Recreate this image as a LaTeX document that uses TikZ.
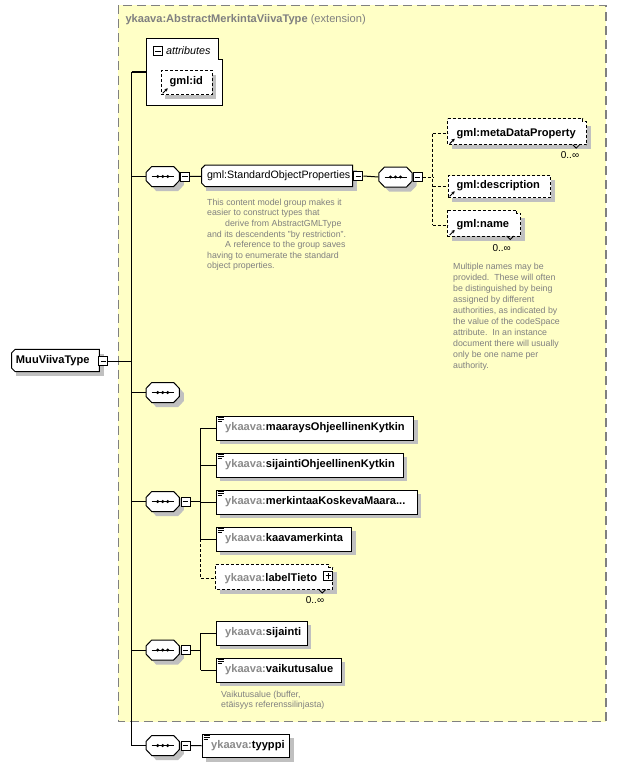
\documentclass[tikz,border=0pt]{standalone}
\usepackage{fontspec}
\setmainfont{Liberation Sans}
\usetikzlibrary{arrows.meta}
\definecolor{ybg}{RGB}{255,255,198}
\definecolor{shd}{RGB}{192,192,192}
\definecolor{gtx}{RGB}{128,128,128}
\definecolor{ylab}{RGB}{138,138,138}
\newcommand\fel{\fontsize{11.1}{12}\selectfont\bfseries}
\newcommand\fdesc{\fontsize{8.8}{10.6}\selectfont}
% plain element box
\newcommand\xel[6]{%
 \fill[shd] (#2+4.5,#3+4.5) rectangle (#4+4.5,#5+4.5);
 \node[box, anchor=north west, minimum width=#4-#2, minimum height=#5-#3] (#1) at (#2,#3) {};
 \node[lbl] at (#2+9,#3/2+#5/2) {#6};
}
% dashed element box
\newcommand\xdsh[6]{%
 \fill[shd] (#2+4.5,#3+4.5) rectangle (#4+4.5,#5+4.5);
 \node[box, dash pattern=on 3pt off 2pt, anchor=north west, minimum width=#4-#2, minimum height=#5-#3] (#1) at (#2,#3) {};
 \node[lbl] at (#2+8.5,#3/2+#5/2) {#6};
}
% dashed stacked element box
\newcommand\xstk[6]{%
 \fill[shd] (#2+4.5,#3+7.5) rectangle (#4+4.5,#5+4.5);
 \path[draw=black, fill=white, dash pattern=on 3pt off 2pt] (#2,#3) -- (#4-4,#3) -- (#4-4,#3+3) -- (#4,#3+3) -- (#4,#5) -- (#2,#5) -- cycle;
 \draw[line width=0.8pt] (#4-14,#5) -- (#4-10.5,#5+3.5) -- (#4-7,#5);
 \node[inner sep=0pt, anchor=north west, minimum width=#4-#2, minimum height=#5-#3] (#1) at (#2,#3) {};
 \node[lbl] at (#2+8.5,#3/2+#5/2+1.5) {#6};
}
% list icon
\newcommand\icl[1]{%
 \draw[line width=0.7pt] ([shift={(2,2.2)}]#1.north west) -- ++(6,0);
 \draw[line width=0.7pt] ([shift={(2,4.2)}]#1.north west) -- ++(6,0);
 \draw[line width=0.7pt] ([shift={(2,6.2)}]#1.north west) -- ++(4.5,0);
}
% reference arrow icon
\newcommand\icr[1]{%
 \draw[line width=1pt, -{Stealth[length=3.2pt,width=3.4pt]}] ([shift={(2,-2)}]#1.south west) -- ++(5,-5);
}
% sequence compositor
\newcommand\xsq[3]{%
 \begin{scope}[shift={(#2,#3)}]
 \fill[shd] (-12.2,0.5) -- (-6.5,-5.5) -- (15.5,-5.5) -- (21.2,0.5) -- (21.2,8.5) -- (15.5,14.5) -- (-6.5,14.5) -- (-12.2,8.5) -- cycle;
 \filldraw[fill=white, line width=1pt] (-16.7,-4) -- (-11,-10) -- (11,-10) -- (16.7,-4) -- (16.7,4) -- (11,10) -- (-11,10) -- (-16.7,4) -- cycle;
 \draw[line width=1pt] (-11,0) -- (11,0);
 \foreach \d in {-5,0,5} \fill (\d,0) circle (1.7pt);
 \end{scope}
 \node[inner sep=0pt, minimum width=33.4, minimum height=20] (#1) at (#2,#3) {};
}
% minus / plus boxes
\newcommand\xmn[3]{%
 \node[box, minimum size=9] (#1) at (#2,#3) {};
 \draw[line width=0.9pt] ([xshift=-2.8pt]#1.center) -- ([xshift=2.8pt]#1.center);
}
\newcommand\xpl[3]{%
 \node[box, minimum size=9] (#1) at (#2,#3) {};
 \draw[line width=0.9pt] ([xshift=-2.8pt]#1.center) -- ([xshift=2.8pt]#1.center);
 \draw[line width=0.9pt] ([yshift=-2.8pt]#1.center) -- ([yshift=2.8pt]#1.center);
}
\newcommand\yk{\textcolor{ylab}{ykaava:}}
\begin{document}
\begin{tikzpicture}[x=1pt,y=-1pt, line width=1pt,
  box/.style={draw=black, fill=white, line width=1pt, inner sep=0pt, rectangle},
  conn/.style={draw=black, line width=1pt},
  dconn/.style={conn, dash pattern=on 3pt off 2pt},
  lbl/.style={inner sep=0pt, anchor=west, font=\fel},
  desc/.style={inner sep=0pt, anchor=north west, align=left, text=gtx, font=\fdesc},
  occ/.style={inner sep=0pt, font=\fontsize{10}{12}\selectfont},
]
\useasboundingbox (0,0) rectangle (617,768);
\fill[white] (0,0) rectangle (617,768);
% extension area
\path[fill=ybg, draw=gtx, line width=1.2pt, dash pattern=on 9pt off 5pt] (118.3,5.5) rectangle (606,721.5);
\node[inner sep=0pt, anchor=west, text=gtx, font=\fel] (ttl) at (125,19.5) {ykaava:AbstractMerkintaViivaType\mdseries\ (extension)};
% attributes
\filldraw[fill=white, line width=1pt] (146.5,38.5) -- (218.5,38.5) -- (218.5,60) -- (222.5,60) -- (222.5,105) -- (146.5,105) -- cycle;
\node[inner sep=0pt, anchor=north west, minimum width=76, minimum height=66.5] (attr) at (146.5,38.5) {};
\xmn{amn}{158}{51}
\node[inner sep=0pt, anchor=west, font=\fontsize{10.8}{12}\selectfont\itshape] (atxt) at (165.5,51) {attributes};
\xdsh{gid}{160.7}{70}{211.7}{94.3}{gml:id}
\icr{gid}
% root
\fill[shd] (16,353.5) -- (104,353.5) -- (104,376) -- (16,376) -- cycle;
\filldraw[fill=white, line width=1pt] (15.2,349.3) -- (99.3,349.3) -- (99.3,371.7) -- (15.2,371.7) -- (11.7,368.2) -- (11.7,352.8) -- cycle;
\node[inner sep=0pt, anchor=north west, minimum width=87.6, minimum height=22.4] (root) at (11.7,349.3) {};
\node[lbl] at (15.5,360.5) {MuuViivaType};
\xmn{rmn}{103.3}{361}
% spine
\coordinate (sp0) at (131.5,72);
\coordinate (sp1) at (131.5,745.5);
\draw[conn] (rmn.east) -- (rmn.east -| sp0);
\draw[conn] (sp0) -- (sp1);
\draw[conn] (sp0) -- (sp0 -| attr.west);
% sequences on spine
\xsq{s1}{162.7}{176.5}
\xsq{s2}{162.7}{392.5}
\xsq{s3}{162.7}{501.5}
\xsq{s4}{162.7}{650}
\xsq{s5}{162.7}{745.5}
\foreach \s in {s1,s2,s3,s4,s5} \draw[conn] (\s.west -| sp0) -- (\s.west);
\xmn{m1}{185}{176.5}
\xmn{m3}{185.5}{501.5}
\xmn{m4}{185.5}{650}
\xmn{m5}{185.5}{745.5}
% group reference
\fill[shd] (206,169.5) -- (357,169.5) -- (357,191) -- (206,191) -- cycle;
\filldraw[fill=white, line width=1pt] (205.2,165) -- (352.7,165) -- (352.7,186.7) -- (205.2,186.7) -- (201.7,183.2) -- (201.7,168.5) -- cycle;
\node[inner sep=0pt, anchor=north west, minimum width=151, minimum height=21.7] (sop) at (201.7,165) {};
\node[inner sep=0pt, anchor=west, font=\fontsize{10.7}{12}\selectfont] at (206.5,176) {gml:StandardObjectProperties};
\xmn{msop}{358.3}{176}
\draw[conn] (m1.east) -- (sop.west);
\node[desc] (dsop) at (206.7,198.5) {This content model group makes it\\easier to construct types that\\\hspace*{18pt}derive from AbstractGMLType\\and its descendents "by restriction".\\\hspace*{18pt}A reference to the group saves\\having to enumerate the standard\\object properties.};
% inner sequence
\xsq{s6}{395.5}{177}
\xmn{m6}{417.5}{177}
\draw[conn] (msop.east) -- (s6.west);
\xstk{g1}{447.7}{118.7}{586.7}{144.7}{gml:metaDataProperty}
\icr{g1}
\xdsh{g2}{447.7}{175}{550}{197.3}{gml:description}
\icr{g2}
\xstk{g3}{447.7}{210}{520.7}{236}{gml:name}
\icr{g3}
\node[occ] at (570,155) {0..∞};
\node[occ] at (501.7,248.5) {0..∞};
\coordinate (v6) at (432.7,0);
\draw[dconn] (m6.east) -- (m6.east -| v6);
\draw[dconn] ([yshift=-1.5pt]g1.west -| v6) -- ([yshift=-1.5pt]g3.west -| v6);
\draw[dconn] ([yshift=-1.5pt]g1.west -| v6) -- ([yshift=-1.5pt]g1.west);
\draw[dconn] (g2.west -| v6) -- (g2.west);
\draw[dconn] ([yshift=-1.5pt]g3.west -| v6) -- ([yshift=-1.5pt]g3.west);
\node[desc, font=\fontsize{8.8}{11}\selectfont] (dname) at (452.7,263) {Multiple names may be\\provided.\ \ These will often\\be distinguished by being\\assigned by different\\authorities, as indicated by\\the value of the codeSpace\\attribute.\ \ In an instance\\document there will usually\\only be one name per\\authority.};
% elements of s3
\xel{e1}{215.7}{415.5}{413}{439.5}{\yk maaraysOhjeellinenKytkin}
\icl{e1}
\xel{e2}{215.7}{452.5}{402.7}{476.5}{\yk sijaintiOhjeellinenKytkin}
\icl{e2}
\xel{e3}{215.7}{489.5}{416.7}{513.5}{\yk merkintaaKoskevaMaara...}
\icl{e3}
\xel{e4}{215.7}{526.5}{351}{550.5}{\yk kaavamerkinta}
\icl{e4}
\xstk{e5}{215.7}{564}{332.7}{589.5}{\yk labelTieto}
\xpl{p5}{328.3}{575.8}
\node[occ] at (315,600) {0..∞};
\coordinate (v3) at (200.7,0);
\draw[conn] (m3.east) -- (m3.east -| v3);
\draw[conn] (e1.west -| v3) -- (e4.west -| v3);
\draw[dconn] (e4.west -| v3) -- ([yshift=-1.5pt]e5.west -| v3);
\foreach \e in {e1,e2,e3,e4} \draw[conn] (\e.west -| v3) -- (\e.west);
\draw[dconn] ([yshift=-1.5pt]e5.west -| v3) -- ([yshift=-1.5pt]e5.west);
% elements of s4
\xel{e6}{215.7}{620.5}{306.7}{644.5}{\yk sijainti}
\xel{e7}{215.7}{657.5}{340.7}{681.5}{\yk vaikutusalue}
\icl{e7}
\draw[conn] (m4.east) -- (m4.east -| v3);
\draw[conn] (e6.west -| v3) -- (e7.west -| v3);
\draw[conn] (e6.west -| v3) -- (e6.west);
\draw[conn] (e7.west -| v3) -- (e7.west);
\node[desc] (dvai) at (220.7,690.5) {Vaikutusalue (buffer,\\etäisyys referenssilinjasta)};
% element of s5
\xel{e8}{201.7}{733.5}{289.3}{757}{\yk tyyppi}
\icl{e8}
\draw[conn] (m5.east) -- (e8.west);
\end{tikzpicture}
\end{document}
